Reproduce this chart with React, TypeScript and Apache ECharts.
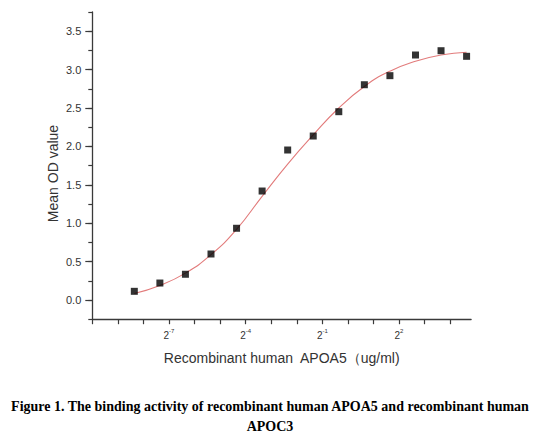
/* eslint-disable */
import React, { useEffect, useRef } from "react";
import * as echarts from "echarts";

// concentration of APOA5 (ug/ml), 2-fold dilution from 25
const concentration = [
  0.0030517578125, 0.006103515625, 0.01220703125, 0.0244140625, 0.048828125,
  0.09765625, 0.1953125, 0.390625, 0.78125, 1.5625, 3.125, 6.25, 12.5, 25,
];
// measured mean OD
const meanOD = [
  0.113, 0.221, 0.335, 0.599, 0.934, 1.419, 1.953, 2.135, 2.452, 2.803, 2.921,
  3.19, 3.246, 3.173,
];
// fitted curve at the same concentrations
const fitOD = [
  0.085, 0.19, 0.35, 0.59, 0.92, 1.35, 1.77, 2.15, 2.5, 2.78, 2.98, 3.11, 3.19,
  3.225,
];
// x ticks as powers of 2; labelled every third
const xTickExp = { min: -10, max: 4, step: 1 };
const xLabelExp = [-7, -4, -1, 2];
const xTitle = "Recombinant human  APOA5\uFF08ug/ml)";
const yTitle = "Mean OD value";
const caption1 =
  "Figure 1. The binding activity of recombinant human APOA5 and recombinant human";
const caption2 = "APOC3";

const AXIS = "#3a3a3a";
const LABEL = "#333";

const App = () => {
  const chartRef = useRef<HTMLDivElement>(null);

  useEffect(() => {
    document.body.style.margin = "0";
    // @ts-ignore
    const chart = echarts.init(chartRef.current, null, { renderer: "svg" });

    const left = 92.3;
    const unit = 25.56; // px per power of 2
    const gridMain = { left, top: 12, width: unit * 14.82, height: 307.2 };
    const gridLabels = { left, top: 31.2, width: unit * 14.82, height: 268.8 };
    const gridTicks = { left, top: 12, width: unit * 14, height: 307.2 };

    const options = {
      animation: false,
      grid: [gridMain, gridLabels, gridTicks],
      xAxis: [
        {
          gridIndex: 0,
          type: "log",
          logBase: 2,
          min: Math.pow(2, -10),
          max: Math.pow(2, 4.82),
          axisLine: { onZero: false, lineStyle: { color: AXIS, width: 1.3 } },
          axisTick: { show: false },
          axisLabel: { show: false },
          splitLine: { show: false },
        },
        { gridIndex: 1, type: "value", show: false },
        {
          // tick ruler in log2 units, same pixel scale as the main axis
          gridIndex: 2,
          type: "value",
          min: xTickExp.min,
          max: xTickExp.max,
          interval: xTickExp.step,
          axisLine: { show: false, onZero: false },
          axisTick: { length: 5, lineStyle: { color: AXIS, width: 1.2 } },
          splitLine: { show: false },
          axisLabel: {
            margin: 9,
            formatter: (n: number) => {
              if (xLabelExp.indexOf(Math.round(n)) < 0) return "";
              return `{b|2}{s|${Math.round(n)}}`;
            },
            rich: {
              b: {
                fontSize: 10,
                fontFamily: "Liberation Sans",
                color: LABEL,
                verticalAlign: "bottom",
              },
              s: {
                fontSize: 6,
                fontFamily: "Liberation Sans",
                color: LABEL,
                verticalAlign: "top",
                padding: [0, 0, 6, 0],
              },
            },
          },
        },
      ],
      yAxis: [
        {
          gridIndex: 0,
          type: "value",
          min: -0.25,
          max: 3.75,
          interval: 0.25,
          axisLine: { show: true, lineStyle: { color: AXIS, width: 1.3 } },
          axisTick: { show: true, length: 4, lineStyle: { color: AXIS, width: 1.2 } },
          axisLabel: { show: false },
          splitLine: { show: false },
        },
        {
          gridIndex: 1,
          type: "value",
          min: 0,
          max: 3.5,
          interval: 0.5,
          axisLine: { show: false },
          axisTick: { show: true, length: 7, lineStyle: { color: AXIS, width: 1.2 } },
          axisLabel: {
            margin: 11,
            fontSize: 11,
            fontFamily: "Liberation Sans",
            color: LABEL,
            formatter: (v: number) => v.toFixed(1),
          },
          splitLine: { show: false },
        },
        { gridIndex: 2, type: "value", min: -0.25, max: 3.75, show: false },
      ],
      series: [
        {
          type: "line",
          xAxisIndex: 0,
          yAxisIndex: 0,
          data: concentration.map((c, i) => [c, fitOD[i]]),
          smooth: true,
          showSymbol: false,
          lineStyle: { color: "#e27b7b", width: 1.1 },
          z: 2,
        },
        {
          type: "scatter",
          xAxisIndex: 0,
          yAxisIndex: 0,
          data: concentration.map((c, i) => [c, meanOD[i]]),
          symbol: "rect",
          symbolSize: 7,
          itemStyle: { color: "#000" },
          z: 3,
        },
      ],
      graphic: [
        {
          type: "text",
          x: 53,
          y: 173.5,
          rotation: Math.PI / 2,
          style: {
            text: yTitle,
            fontSize: 14,
            fontFamily: "Liberation Sans",
            fill: LABEL,
            align: "center",
            verticalAlign: "middle",
          },
        },
        {
          type: "text",
          x: 281.7,
          y: 357.5,
          style: {
            text: xTitle,
            fontSize: 14,
            fontFamily: "Liberation Sans",
            fill: LABEL,
            align: "center",
            verticalAlign: "middle",
          },
        },
        {
          type: "text",
          x: 270,
          y: 406,
          style: {
            text: caption1,
            fontSize: 14,
            fontWeight: "bold",
            fontFamily: "Liberation Serif",
            fill: "#000",
            align: "center",
            verticalAlign: "middle",
          },
        },
        {
          type: "text",
          x: 270,
          y: 426.5,
          style: {
            text: caption2,
            fontSize: 14,
            fontWeight: "bold",
            fontFamily: "Liberation Serif",
            fill: "#000",
            align: "center",
            verticalAlign: "middle",
          },
        },
      ],
    };

    chart.setOption(options);

    return () => {
      chart.dispose();
    };
  }, []);

  return <div ref={chartRef} style={{ width: "539px", height: "442px" }} />;
};

export default App;
